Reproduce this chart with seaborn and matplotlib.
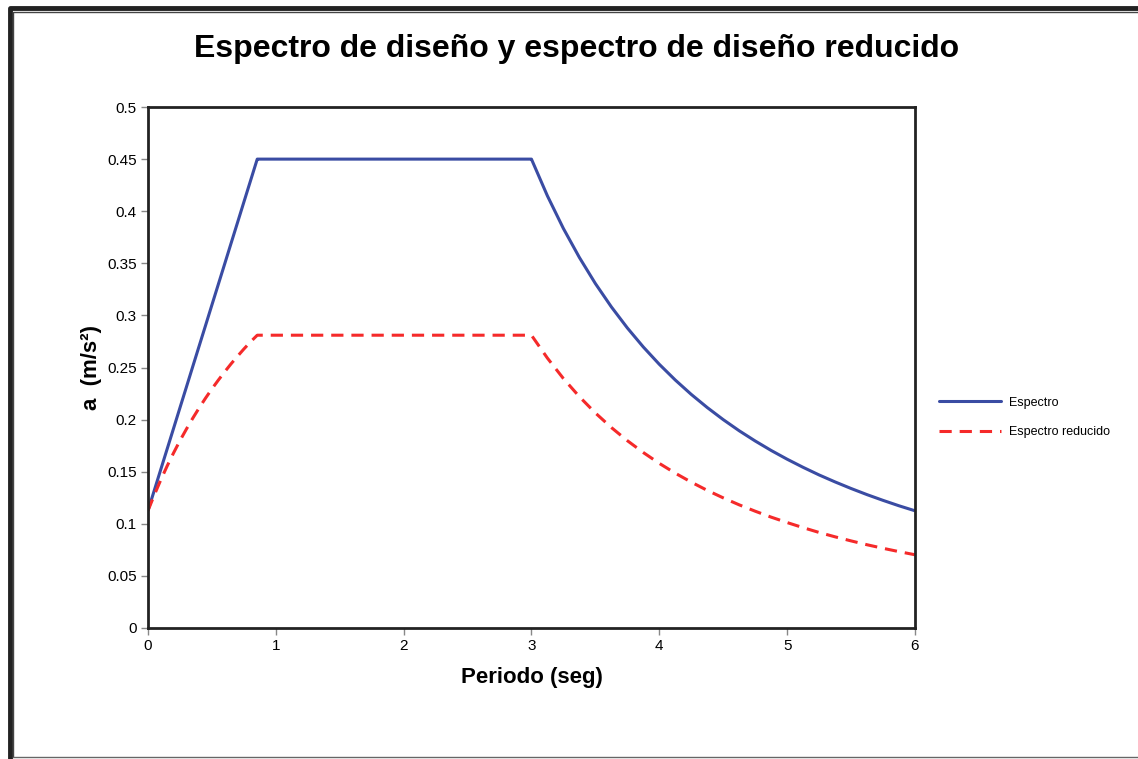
import pandas as pd
import seaborn as sns
import matplotlib.pyplot as plt
from matplotlib.lines import Line2D

# Values
periodo = [0.0, 0.05, 0.1, 0.15, 0.2, 0.25, 0.3, 0.35, 0.4, 0.45, 0.5, 0.55, 0.6,
           0.65, 0.7, 0.75, 0.8, 0.855, 3.0,
           3.125, 3.25, 3.375, 3.5, 3.625, 3.75, 3.875, 4.0, 4.125, 4.25, 4.375, 4.5,
           4.625, 4.75, 4.875, 5.0, 5.125, 5.25, 5.375, 5.5, 5.625, 5.75, 5.875, 6.0]
espectro = [0.1125, 0.1322, 0.1520, 0.1717, 0.1914, 0.2112, 0.2309, 0.2507, 0.2704,
            0.2901, 0.3099, 0.3296, 0.3493, 0.3691, 0.3888, 0.4086, 0.4283, 0.45, 0.45,
            0.4147, 0.3834, 0.3556, 0.3306, 0.3082, 0.2880, 0.2697, 0.2531, 0.2380,
            0.2242, 0.2116, 0.2000, 0.1893, 0.1795, 0.1704, 0.1620, 0.1542, 0.1469,
            0.1402, 0.1339, 0.1280, 0.1225, 0.1173, 0.1125]
reducido = [0.1125, 0.1277, 0.1420, 0.1554, 0.1679, 0.1797, 0.1907, 0.2012, 0.2111,
            0.2205, 0.2294, 0.2378, 0.2458, 0.2535, 0.2607, 0.2677, 0.2743, 0.281, 0.281,
            0.2590, 0.2394, 0.2220, 0.2064, 0.1924, 0.1798, 0.1684, 0.1580, 0.1486,
            0.1400, 0.1321, 0.1249, 0.1182, 0.1121, 0.1064, 0.1012, 0.0963, 0.0917,
            0.0875, 0.0836, 0.0799, 0.0765, 0.0733, 0.0703]
series = ["Espectro", "Espectro reducido"]
x_ticks = [0, 1, 2, 3, 4, 5, 6]
y_ticks = [0, 0.05, 0.1, 0.15, 0.2, 0.25, 0.3, 0.35, 0.4, 0.45, 0.5]

df = pd.DataFrame({
    "Periodo": periodo * 2,
    "a": espectro + reducido,
    "Serie": [series[0]] * len(periodo) + [series[1]] * len(periodo),
})

sns.set_style("white", rc={"text.color": "black", "axes.labelcolor": "black",
                           "xtick.color": "#888888", "ytick.color": "#888888"})
plt.rcParams["font.family"] = ["Liberation Sans", "DejaVu Sans"]

fig = plt.figure(figsize=(11.38, 7.59), dpi=100)
ax = fig.add_axes([0.130, 0.1726, 0.674, 0.6864])

sns.lineplot(data=df, x="Periodo", y="a", hue="Serie", style="Serie",
             palette=["#3a4ca3", "#f52a2a"], dashes=[(1, 0), (4, 2.6)],
             linewidth=2.2, ax=ax, legend=False, sort=False)

ax.set_xlim(0, 6)
ax.set_ylim(0, 0.5)
ax.set_xticks(x_ticks)
ax.set_xticklabels([str(t) for t in x_ticks])
ax.set_yticks(y_ticks)
ax.set_yticklabels([f"{t:g}" for t in y_ticks])
ax.tick_params(axis="both", direction="out", length=5, width=1, color="#888888",
               labelcolor="black", labelsize=11, pad=3, left=True, bottom=True)
for sp in ax.spines.values():
    sp.set_color("#222222")
    sp.set_linewidth(2)

ax.set_xlabel("Periodo (seg)", fontsize=16, fontweight="bold", labelpad=10)
ax.set_ylabel("a  (m/s²)", fontsize=16, fontweight="bold", labelpad=4)
fig.text(0.507, 0.935, "Espectro de diseño y espectro de diseño reducido",
         ha="center", va="center", fontsize=23, fontweight="bold", color="black")

handles = [Line2D([], [], color="#3a4ca3", lw=2.2),
           Line2D([], [], color="#f52a2a", lw=2.2, dashes=(4, 2.6))]
fig.legend(handles, series, loc="center left", bbox_to_anchor=(0.815, 0.45),
           frameon=False, fontsize=9, handlelength=5, handletextpad=0.6,
           labelspacing=1.4)

# chart border
fig.add_artist(Line2D([0.0085, 0.0085, 1.0], [0.0, 0.989, 0.989],
                      transform=fig.transFigure, color="#222222", lw=3.5))
fig.add_artist(Line2D([0.0118, 0.0118, 1.0], [0.003, 0.984, 0.984],
                      transform=fig.transFigure, color="#444444", lw=1))
fig.add_artist(Line2D([0.0118, 1.0], [0.003, 0.003],
                      transform=fig.transFigure, color="#666666", lw=1))

fig.savefig("out.png", dpi=100)
